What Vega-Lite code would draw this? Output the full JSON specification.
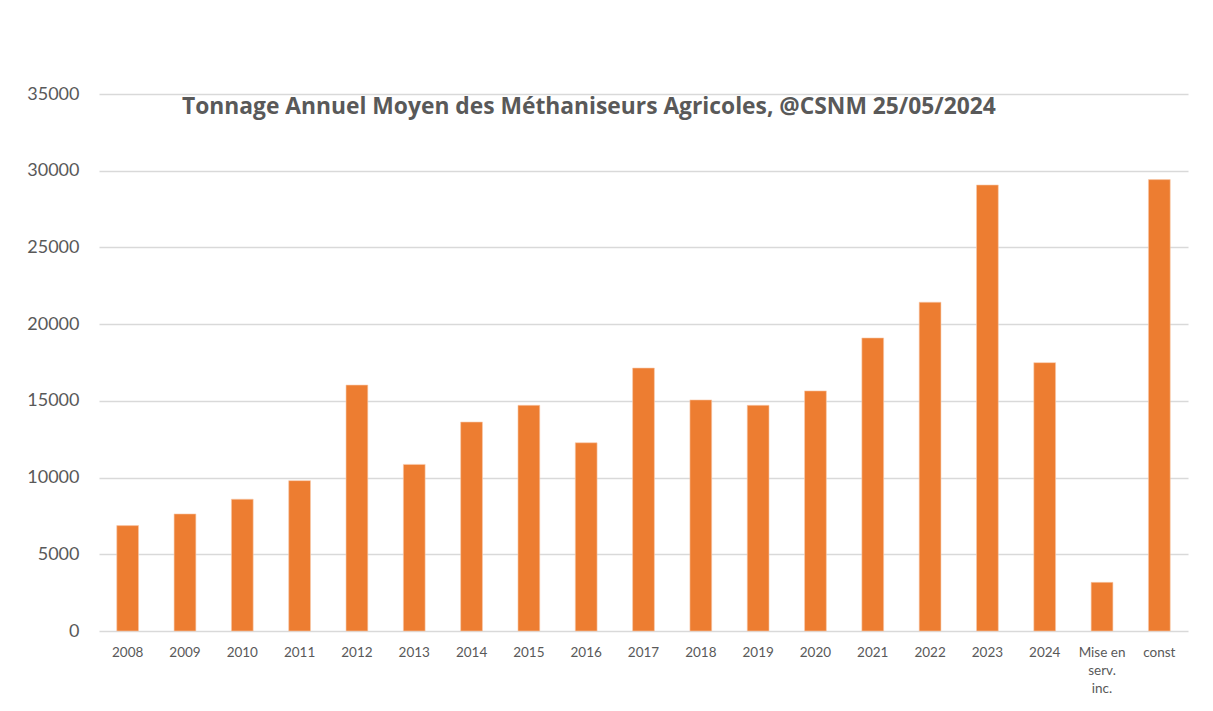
{
  "$schema": "https://vega.github.io/schema/vega-lite/v6.json",
  "width": 1089,
  "height": 537,
  "autosize": "none",
  "padding": {"left": 99, "top": 94, "right": 25, "bottom": 80},
  "background": "white",
  "title": {
    "text": "Tonnage Annuel Moyen des Méthaniseurs Agricoles, @CSNM 25/05/2024",
    "anchor": "start",
    "frame": "group",
    "dx": 83,
    "offset": -52,
    "baseline": "alphabetic",
    "font": "Open Sans",
    "fontSize": 22.8,
    "fontWeight": "bold",
    "color": "#595959"
  },
  "data": {
    "values": [
      {"cat": "2008", "t": 6870},
      {"cat": "2009", "t": 7630},
      {"cat": "2010", "t": 8590},
      {"cat": "2011", "t": 9800},
      {"cat": "2012", "t": 16030},
      {"cat": "2013", "t": 10860},
      {"cat": "2014", "t": 13620},
      {"cat": "2015", "t": 14710},
      {"cat": "2016", "t": 12270},
      {"cat": "2017", "t": 17140},
      {"cat": "2018", "t": 15060},
      {"cat": "2019", "t": 14710},
      {"cat": "2020", "t": 15650},
      {"cat": "2021", "t": 19100},
      {"cat": "2022", "t": 21430},
      {"cat": "2023", "t": 29070},
      {"cat": "2024", "t": 17490},
      {"cat": "Mise en serv. inc.", "t": 3170},
      {"cat": "const", "t": 29420}
    ]
  },
  "mark": {"type": "bar", "color": "#ED7D31", "stroke": "#F8CBAD", "strokeWidth": 0.6},
  "encoding": {
    "x": {
      "field": "cat",
      "type": "nominal",
      "sort": null,
      "title": null,
      "scale": {"paddingInner": 0.62, "paddingOuter": 0.31},
      "axis": {
        "labelAngle": 0,
        "labelFont": "Lato",
        "labelFontSize": 13.5,
        "labelColor": "#595959",
        "labelPadding": 14,
        "labelLineHeight": 18,
        "labelExpr": "datum.label == 'Mise en serv. inc.' ? ['Mise en', 'serv.', 'inc.'] : datum.label",
        "domain": false,
        "ticks": false
      }
    },
    "y": {
      "field": "t",
      "type": "quantitative",
      "title": null,
      "scale": {"domain": [0, 35000], "nice": false},
      "axis": {
        "values": [0, 5000, 10000, 15000, 20000, 25000, 30000, 35000],
        "format": "d",
        "labelFont": "Lato",
        "labelFontSize": 18,
        "labelColor": "#595959",
        "labelPadding": 20,
        "domain": false,
        "ticks": false,
        "gridColor": "#D9D9D9",
        "gridWidth": 1.3
      }
    }
  },
  "config": {"view": {"stroke": null}}
}
